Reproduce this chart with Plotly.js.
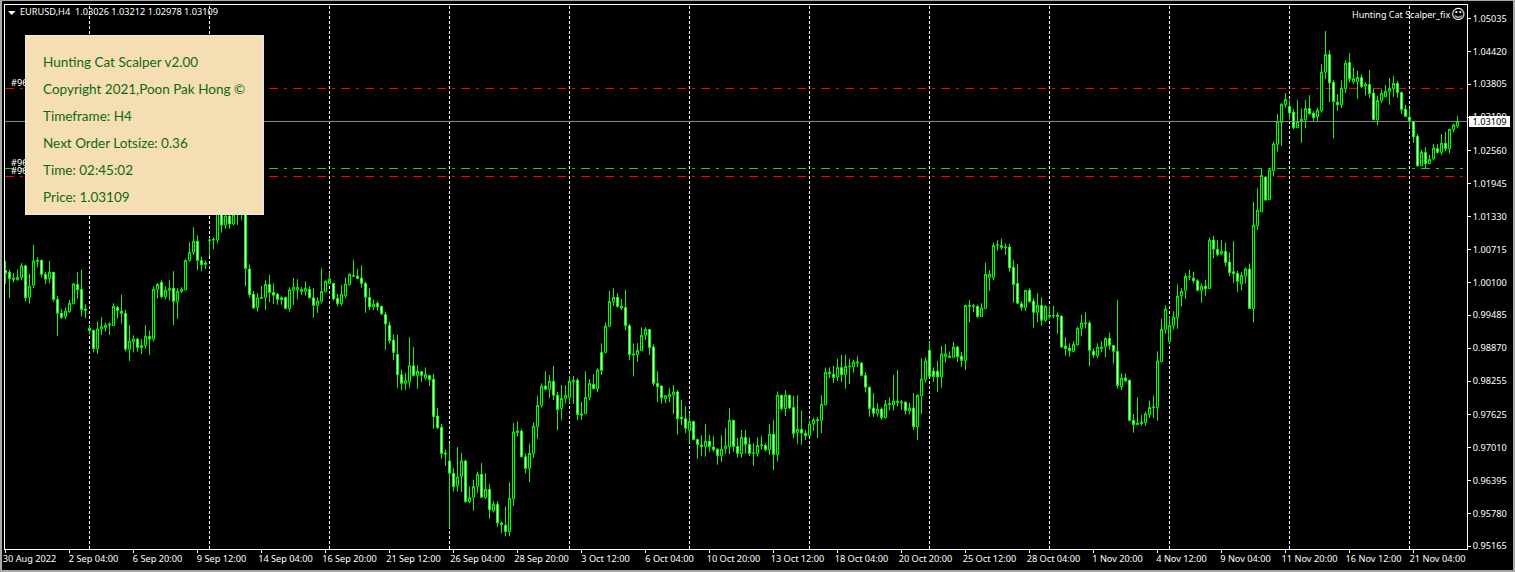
<!DOCTYPE html>
<html><head><meta charset="utf-8">
<script src="https://cdn.plot.ly/plotly-3.0.1.min.js"></script>
<style>
html,body{margin:0;padding:0;background:#000;overflow:hidden}
#chart{position:absolute;left:0;top:0;width:1515px;height:572px}
#edge{position:fixed;left:0;top:0;width:1515px;height:572px;box-sizing:border-box;border-left:2px solid #a8a8a8;border-top:1px solid #a8a8a8;border-right:2px solid #a8a8a8;border-bottom:2px solid #a8a8a8;pointer-events:none}
</style></head><body>
<div id="chart"></div><div id="edge"></div>
<script>
// Prices in pips (1 pip = 0.0001)
const highPips=[10050,10034,10027,10034,10046,10043,10026,10080,10057,10053,
10030,10050,10029,9985,9960,9963,9977,10009,10029,10034,
9969,9930,9922,9937,9945,9935,9935,9971,9966,9987,
9959,9930,9911,9906,9904,9930,9920,10003,10009,10014,
10003,10014,10031,9999,10001,10053,10085,10113,10098,10058,
10051,10094,10094,10155,10160,10150,10150,10155,10160,10160,
10175,10043,9994,9990,10003,10014,10024,10008,9990,9984,
9983,10001,10018,10016,10001,10012,10003,9999,9982,10036,
10014,10029,10009,9988,10005,10019,10027,10052,10035,10042,
10011,9999,9978,9975,9967,9955,9936,9913,9912,9847,
9840,9907,9889,9855,9844,9851,9837,9839,9775,9745,
9697,9710,9663,9702,9691,9678,9628,9641,9656,9672,
9653,9633,9601,9601,9563,9591,9636,9747,9750,9736,
9690,9708,9748,9798,9821,9844,9837,9854,9805,9818,
9817,9834,9835,9831,9786,9844,9829,9838,9849,9896,
9935,9994,9999,9990,9979,9996,9932,9896,9896,9926,
9926,9922,9894,9844,9818,9799,9813,9818,9809,9791,
9778,9765,9751,9718,9724,9745,9725,9723,9700,9724,
9738,9775,9752,9719,9734,9734,9720,9709,9720,9723,
9709,9745,9753,9806,9799,9808,9799,9798,9799,9770,
9734,9752,9757,9758,9799,9851,9851,9854,9867,9874,
9875,9867,9865,9872,9861,9842,9815,9803,9784,9776,
9790,9795,9837,9846,9790,9787,9785,9803,9800,9868,
9870,9901,9851,9863,9891,9894,9881,9899,9891,9880,
9968,9977,9970,9968,9971,10047,10033,10084,10089,10092,
10083,10082,10052,10044,9975,9996,9999,9980,9990,9982,
9967,9966,9966,9954,9948,9907,9896,9900,9927,9949,
9954,9938,9887,9896,9900,9907,9916,9893,9977,9840,
9840,9828,9764,9795,9762,9768,9789,9798,9881,9942,
9967,9946,9956,10006,9999,10027,10034,10030,10016,10008,
10015,10094,10097,10089,10089,10084,10066,10087,10032,10029,
10038,10045,10160,10186,10223,10208,10223,10273,10325,10345,
10364,10351,10334,10351,10335,10351,10360,10330,10337,10418,
10480,10444,10388,10362,10388,10425,10439,10412,10406,10399,
10384,10407,10372,10359,10371,10379,10392,10396,10387,10367,
10342,10335,10311,10287,10258,10263,10249,10269,10269,10287,
10291,10297,10307,10321.2];
const lowPips=[10007,9981,10010,10013,10014,9974,9970,9999,10038,10019,
10007,10008,9974,9910,9942,9941,9953,9969,9979,9946,
9943,9912,9879,9876,9912,9918,9912,9929,9942,9933,
9881,9863,9879,9880,9876,9886,9874,9899,9980,9980,
9978,9976,9930,9942,9990,9995,10049,10061,10033,10031,
10035,10059,10072,10083,10103,10110,10110,10117,10117,10127,
10003,9982,9960,9955,9979,9958,9973,9970,9968,9968,
9960,9955,9968,9978,9986,9985,9980,9944,9953,9971,
9991,10007,9976,9965,9966,9981,10004,10021,10016,10000,
9953,9958,9958,9957,9949,9884,9896,9865,9812,9808,
9809,9813,9834,9811,9824,9828,9816,9736,9736,9680,
9667,9550,9619,9619,9618,9598,9597,9583,9616,9607,
9605,9568,9580,9553,9541,9535,9535,9592,9722,9682,
9653,9636,9682,9717,9776,9808,9794,9790,9734,9753,
9784,9784,9783,9752,9753,9763,9789,9810,9805,9837,
9877,9927,9966,9963,9958,9920,9865,9834,9861,9882,
9902,9874,9816,9786,9783,9784,9786,9764,9725,9743,
9728,9709,9715,9680,9685,9684,9693,9693,9669,9674,
9690,9689,9693,9682,9682,9690,9685,9667,9684,9697,
9694,9687,9659,9675,9770,9760,9773,9718,9708,9706,
9715,9723,9732,9719,9728,9780,9831,9822,9825,9823,
9811,9820,9841,9851,9834,9804,9759,9758,9759,9753,
9755,9771,9770,9778,9772,9763,9763,9734,9715,9764,
9823,9834,9824,9805,9813,9860,9868,9868,9861,9852,
9846,9935,9954,9943,9946,9960,9994,10014,10069,10071,
10061,10030,9972,9970,9957,9957,9972,9925,9935,9929,
9936,9941,9943,9914,9887,9873,9871,9879,9892,9909,
9924,9853,9869,9869,9879,9870,9884,9858,9811,9809,
9824,9750,9729,9743,9742,9742,9756,9757,9751,9860,
9914,9896,9922,9923,9965,9979,10014,10008,9993,9972,
9985,9998,10055,10058,10061,10040,10022,10009,9992,9995,
10008,9960,9935,10108,10142,10162,10164,10208,10254,10265,
10337,10314,10296,10299,10271,10298,10324,10312,10312,10327,
10390,10347,10279,10331,10336,10364,10384,10381,10353,10373,
10359,10355,10314,10304,10345,10356,10342,10357,10355,10325,
10320,10300,10271,10226,10228,10223,10231,10238,10251,10248,
10255,10251,10291,10297.8];
const openPips=[10032,10029,10018,10015,10019,10041,9982,10005,10049,10051,
10025,10017,10029,9978,9952,9946,9955,9970,10006,9997,
9960,9924,9920,9886,9923,9925,9930,9929,9963,9956,
9952,9885,9899,9904,9888,9892,9909,9904,9997,10010,
9983,9995,9999,9974,9993,9996,10051,10066,10087,10051,
10046,10088,10089,10089,10149,10117,10134,10119,10136,10140,
10165,10035,9988,9963,9980,9982,10006,9991,9988,9981,
9982,9961,9995,9996,9993,9993,9997,9981,9967,9975,
9993,10008,10008,9980,9970,9985,10006,10021,10022,10018,
10008,9982,9964,9971,9965,9950,9930,9902,9875,9837,
9821,9824,9854,9836,9843,9831,9836,9829,9760,9739,
9691,9676,9653,9630,9647,9676,9600,9608,9628,9651,
9608,9623,9583,9595,9560,9556,9544,9605,9729,9732,
9684,9662,9690,9740,9780,9816,9810,9825,9799,9774,
9793,9795,9824,9827,9764,9765,9795,9819,9811,9879,
9879,9928,9974,9982,9965,9963,9929,9874,9875,9882,
9911,9922,9889,9821,9816,9792,9796,9799,9805,9758,
9755,9733,9750,9716,9706,9703,9713,9702,9698,9686,
9699,9703,9752,9703,9690,9720,9707,9690,9690,9705,
9705,9697,9726,9688,9799,9774,9799,9776,9729,9735,
9728,9723,9746,9751,9752,9781,9842,9838,9833,9851,
9837,9852,9852,9859,9859,9836,9814,9775,9765,9773,
9757,9781,9781,9785,9785,9786,9770,9775,9740,9798,
9828,9883,9844,9844,9833,9871,9872,9870,9889,9872,
9864,9965,9965,9965,9946,9961,10019,10019,10079,10075,
10075,10076,10038,10008,9970,9963,9995,9975,9954,9967,
9939,9946,9947,9946,9947,9891,9887,9881,9893,9924,
9933,9934,9881,9873,9886,9889,9905,9892,9881,9815,
9831,9827,9752,9744,9746,9748,9763,9776,9776,9862,
9922,9899,9929,9944,9985,9995,10020,10018,10013,9995,
10003,9998,10089,10072,10063,10068,10048,10030,10027,10007,
10022,10035,9961,10116,10142,10207,10165,10219,10268,10309,
10342,10339,10328,10299,10311,10314,10335,10326,10320,10331,
10403,10436,10384,10347,10342,10372,10421,10385,10385,10393,
10377,10380,10364,10314,10350,10357,10367,10372,10382,10365,
10334,10319,10311,10283,10228,10253,10232,10241,10260,10253,
10270,10260,10296,10302.6];
const closePips=[10027,10017,10016,10019,10041,9981,10003,10050,10051,10025,
10016,10029,9978,9952,9944,9956,9971,10007,9996,9959,
9958,9920,9886,9923,9927,9930,9932,9965,9957,9952,
9885,9900,9904,9888,9892,9909,9904,9997,10006,9983,
9995,9999,9974,9993,9997,10051,10066,10087,10051,10043,
10044,10089,10090,10142,10117,10134,10119,10136,10140,10145,
10036,9987,9962,9981,9982,10006,9991,9986,9978,9978,
9961,9996,10001,10001,9997,9999,9981,9967,9975,9993,
10012,10016,9979,9970,9988,10007,10025,10023,10017,10008,
9982,9964,9969,9964,9951,9932,9901,9879,9837,9821,
9826,9854,9836,9844,9836,9838,9828,9759,9738,9690,
9689,9653,9628,9646,9676,9600,9607,9628,9651,9608,
9623,9585,9595,9560,9557,9544,9606,9730,9732,9684,
9662,9690,9741,9780,9816,9810,9825,9799,9772,9793,
9799,9825,9827,9763,9762,9795,9821,9811,9846,9845,
9928,9974,9982,9965,9962,9929,9875,9876,9883,9911,
9922,9888,9821,9815,9794,9798,9801,9805,9755,9755,
9737,9750,9716,9707,9703,9713,9703,9697,9686,9698,
9704,9752,9703,9690,9720,9707,9690,9691,9705,9706,
9697,9726,9688,9799,9774,9799,9775,9727,9735,9728,
9723,9745,9753,9753,9782,9842,9839,9832,9851,9837,
9853,9853,9861,9861,9836,9814,9774,9765,9773,9757,
9782,9783,9788,9788,9786,9770,9775,9740,9799,9829,
9863,9834,9834,9833,9876,9876,9870,9889,9871,9864,
9967,9967,9966,9946,9962,10025,10025,10079,10080,10079,
10076,10037,10006,9971,9963,9995,9974,9954,9967,9939,
9965,9948,9948,9949,9889,9886,9882,9894,9924,9934,
9934,9883,9874,9889,9889,9905,9892,9881,9817,9831,
9826,9752,9744,9747,9749,9764,9776,9777,9863,9922,
9960,9929,9945,9984,9993,10021,10021,10013,9995,10003,
9998,10089,10072,10062,10068,10047,10028,10026,10012,10023,
10035,9961,10117,10145,10210,10164,10220,10269,10311,10343,
10352,10327,10299,10311,10315,10335,10325,10318,10332,10403,
10436,10383,10348,10342,10373,10420,10390,10391,10393,10376,
10381,10363,10314,10350,10364,10367,10372,10382,10365,10333,
10320,10312,10282,10228,10253,10232,10240,10261,10253,10270,
10260,10296,10304,10310.9];

const xTickIdx=[0,16,32,48,64,80,96,112,128,144,160,176,192,208,224,240,256,272,288,304,320,336,352];
const xTickText=["30 Aug 2022","2 Sep 04:00","6 Sep 20:00","9 Sep 12:00","14 Sep 04:00","16 Sep 20:00","21 Sep 12:00","26 Sep 04:00","28 Sep 20:00","3 Oct 12:00","6 Oct 04:00","10 Oct 20:00","13 Oct 12:00","18 Oct 04:00","20 Oct 20:00","25 Oct 12:00","28 Oct 04:00","1 Nov 20:00","4 Nov 12:00","9 Nov 04:00","11 Nov 20:00","16 Nov 12:00","21 Nov 04:00"];
const yTickText=["1.05035","1.04420","1.03805","1.03190","1.02560","1.01945","1.01330","1.00715","1.00100","0.99485","0.98870","0.98255","0.97625","0.97010","0.96395","0.95780","0.95165"];
const weekSeparators=[21,51,81,111,141,171,201,231,261,291,321,351];
const redLevels=[1.03725,1.02079];
const greenLevel=1.02229;
const bidPrice=1.03109;
const panelLines=["Hunting Cat Scalper v2.00","Copyright 2021,Poon Pak Hong ©","Timeframe: H4","Next Order Lotsize: 0.36","Time: 02:45:02","Price: 1.03109"];

const toPrice=a=>a.map(v=>v/10000);
const W=1515,H=572,L=5,R=1467,T=5,B=549;
const px=x=>(x-L)/(R-L), py=y=>(B-y)/(B-T);
const axisFont={family:'"Noto Sans",sans-serif',size:9.2,color:'#fff'};

const levelShape=(y,color)=>({type:'line',xref:'x',yref:'y',x0:-0.125,x1:364.5,y0:y,y1:y,layer:'below',line:{color:color,width:1,dash:'9px,6px,3px,6px'}});
const shapes=[];
weekSeparators.forEach(i=>shapes.push({type:'line',xref:'x',yref:'paper',x0:i,x1:i,y0:0,y1:1,layer:'below',line:{color:'#fff',width:1,dash:'3px,2px'}}));
redLevels.forEach(v=>shapes.push(levelShape(v,'#ff0000')));
shapes.push(levelShape(greenLevel,'#22cc22'));
shapes.push({type:'line',xref:'paper',yref:'y',x0:0,x1:1,y0:bidPrice,y1:bidPrice,layer:'above',line:{color:'#8c8c8c',width:1}});
shapes.push({type:'path',xref:'paper',yref:'paper',layer:'above',fillcolor:'#fff',line:{width:0},
  path:`M${px(8)},${py(11)} L${px(15.5)},${py(11)} L${px(11.7)},${py(15)} Z`});

const note=(text,x,y,font,extra)=>Object.assign({xref:'paper',yref:'paper',x:px(x),y:py(y),text:text,showarrow:false,xanchor:'left',yanchor:'middle',font:font,borderpad:0,borderwidth:0},extra||{});
const smallFont={family:'"Noto Sans",sans-serif',size:9.2,color:'#fff'};
const panelFont={family:'Lato,sans-serif',size:13.5,color:'#0f6a0f'};
const annotations=[
  note('#9678',11,82,smallFont),
  note('#9682',11,162,smallFont),
  note('#9681',11,170,smallFont),
  note(' ',25,35,panelFont,{yanchor:'top',width:237,height:178,bgcolor:'#F5DEB3',bordercolor:'#e6e6ee',borderwidth:1}),
];
panelLines.forEach((t,i)=>annotations.push(note(t,43,62+27*i,panelFont)));
annotations.push(note('EURUSD,H4  1.03026 1.03212 1.02978 1.03109',20,12,smallFont));
annotations.push(note('Hunting Cat Scalper_fix',1352,14,{family:smallFont.family,size:9,color:'#fff'}));
annotations.push(note('☺',1450.5,14,{family:'"DejaVu Sans",sans-serif',size:14,color:'#fff'}));
annotations.push(note('1.03109',1469,121.5,{family:axisFont.family,size:9.2,color:'#000'},{bgcolor:'#fff',width:41,height:11,align:'center'}));

const trace={type:'candlestick',x:openPips.map((_,i)=>i),open:toPrice(openPips),high:toPrice(highPips),low:toPrice(lowPips),close:toPrice(closePips),
  increasing:{line:{color:'#00ff00',width:1},fillcolor:'#000000'},
  decreasing:{line:{color:'#00ff00',width:1},fillcolor:'#ffffff'},
  whiskerwidth:0,hoverinfo:'skip'};

const layout={width:W,height:H,margin:{l:L,r:W-R,t:T,b:H-B,pad:0},paper_bgcolor:'#000',plot_bgcolor:'#000',showlegend:false,
  boxgap:0.5,boxgroupgap:0,
  xaxis:{type:'linear',range:[-0.125,365.375],rangeslider:{visible:false},showgrid:false,zeroline:false,showline:true,mirror:true,linecolor:'#fff',linewidth:1,
    tickmode:'array',tickvals:xTickIdx,ticktext:xTickText,ticks:'outside',ticklen:3,tickcolor:'#fff',tickwidth:1,tickfont:axisFont,ticklabelshift:24,ticklabelstandoff:-2,tickangle:0},
  yaxis:{type:'linear',side:'right',range:[1.05380-0.000187*549,1.05380-0.000187*5],showgrid:false,zeroline:false,showline:true,mirror:true,linecolor:'#fff',linewidth:1,
    tickmode:'array',tickvals:yTickText.map(Number),ticktext:yTickText,ticks:'outside',ticklen:3,tickcolor:'#fff',tickwidth:1,tickfont:axisFont},
  shapes:shapes,annotations:annotations,hovermode:false};
Plotly.newPlot('chart',[trace],layout,{staticPlot:true,displayModeBar:false});
</script></body></html>
